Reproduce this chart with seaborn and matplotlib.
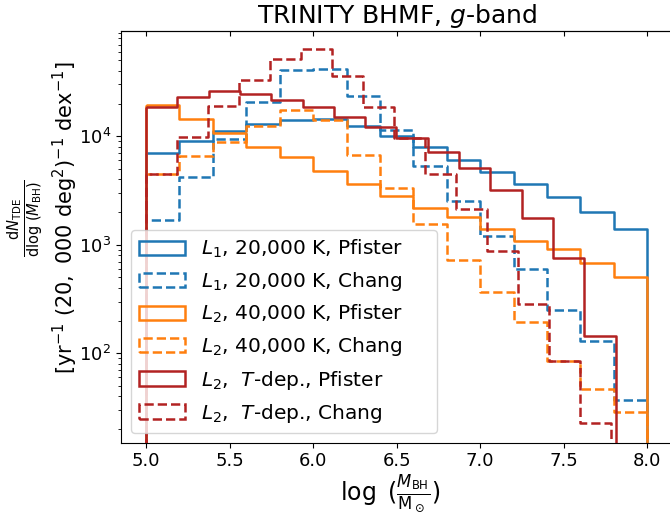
import numpy as np
import matplotlib
matplotlib.use("Agg")
import matplotlib.pyplot as plt
from matplotlib.patches import Patch
import seaborn as sns

# ---- data ----
n_bins = 15
range_full = (5.0, 8.0)          # L1 and L2 40,000 K histograms
range_tdep_pfister = (5.0, 7.81)  # L2 T-dep., Pfister
range_tdep_chang = (5.0, 7.78)    # L2 T-dep., Chang

l1_20k_pfister = [6970, 9050, 11260, 12980, 14130, 14360, 12530, 10060,
                  7930, 6100, 4660, 3630, 2740, 2020, 1390]
l1_20k_chang = [1690, 4250, 9440, 20850, 40500, 41500, 23670, 11430,
                5360, 2550, 1205, 599, 250, 131, 37.2]
l2_40k_pfister = [19400, 14360, 10660, 8020, 6490, 4820, 3630, 2800,
                  2170, 1790, 1400, 1090, 910, 675, 508]
l2_40k_chang = [4450, 6580, 8920, 12520, 17460, 14000, 6730, 3320,
                1556, 725, 365, 193, 85.4, 46.9, 28.6]
l2_tdep_pfister = [18750, 23200, 26000, 24700, 21700, 18450, 15060, 12270,
                   9590, 7220, 5070, 3200, 1750, 752, 143]
l2_tdep_chang = [4500, 9910, 19000, 33000, 51300, 63400, 36200, 18750,
                 9700, 4500, 2140, 883, 283, 85, 22.6]

labels = [
    r"$L_1$, 20,000 K, Pfister     ",
    r"$L_1$, 20,000 K, Chang",
    r"$L_2$, 40,000 K, Pfister",
    r"$L_2$, 40,000 K, Chang",
    r"$L_2$,  $T$-dep., Pfister",
    r"$L_2$,  $T$-dep., Chang",
]
series = [l1_20k_pfister, l1_20k_chang, l2_40k_pfister, l2_40k_chang,
          l2_tdep_pfister, l2_tdep_chang]
ranges = [range_full, range_full, range_full, range_full,
          range_tdep_pfister, range_tdep_chang]
colors = ["#1f77b4", "#1f77b4", "#ff7f0e", "#ff7f0e", "#b22222", "#b22222"]
styles = ["-", "--", "-", "--", "-", "--"]
xticks = [5.0, 5.5, 6.0, 6.5, 7.0, 7.5, 8.0]

# ---- style ----
plt.rcParams['font.family'] = ['DejaVu Sans']
plt.rcParams['mathtext.fontset'] = 'dejavusans'

fig = plt.figure(figsize=(6.7, 5.17), dpi=100)
ax = fig.add_axes([120.9 / 670, 1 - 442.7 / 517, 551.5 / 670, (442.7 - 31) / 517])

lw = 1.8
handles = []
for vals, rng, c, ls, lab in zip(series, ranges, colors, styles, labels):
    edges = np.linspace(rng[0], rng[1], n_bins + 1)
    centers = 0.5 * (edges[:-1] + edges[1:])
    sns.histplot(x=list(centers), weights=list(vals), bins=list(edges),
                 element="step", fill=True, facecolor="none", edgecolor=c,
                 color=c, linestyle=ls, linewidth=lw, ax=ax)
    handles.append(Patch(facecolor="none", edgecolor=c, linestyle=ls,
                         linewidth=lw, label=lab))

ax.set_yscale("log")
ax.set_xlim(4.85, 8.15)
ax.set_ylim(15.0, 9.33e4)
ax.set_xticks(xticks)
ax.tick_params(axis="both", which="major", labelsize=13)

top = ax.secondary_xaxis("top")
top.set_xticks(xticks)
top.tick_params(direction="in", labeltop=False, length=3.5)

ax.set_title(r"TRINITY BHMF, $g$-band", fontsize=18)
ax.set_xlabel(r"$\log\ (\frac{M_{\mathrm{BH}}}{\mathrm{M}_\odot})$", fontsize=17)
ax.xaxis.set_label_coords(0.489, -0.073)
ax.set_ylabel(r"$\frac{\mathrm{d}N_{\mathrm{TDE}}}{\mathrm{d}\log\,(M_{\mathrm{BH}})}\qquad\,$"
              "\n"
              r"$[\mathrm{yr}^{-1}\ (20,\ 000\ \mathrm{deg}^2)^{-1}\ \mathrm{dex}^{-1}]$",
              fontsize=15)
ax.yaxis.set_label_coords(-0.075, 0.546)

ax.legend(handles=handles, loc="lower left", fontsize=14.5, handlelength=2.3)

fig.savefig("out.png", dpi=100)
